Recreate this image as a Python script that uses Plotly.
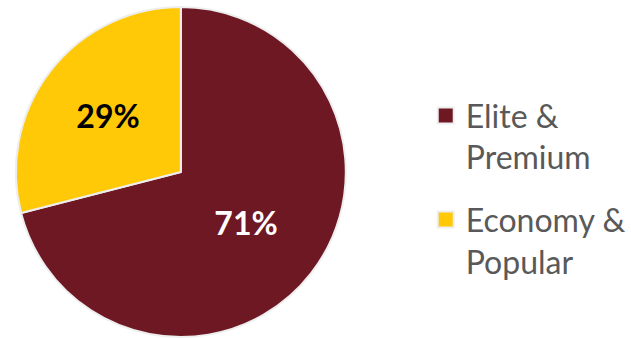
import plotly.graph_objects as go

labels = ["Elite &<br>Premium", "Economy &<br>Popular"]
values = [71, 29]
colors = ["#6E1824", "#FFC907"]
text_colors = ["white", "black"]

fig = go.Figure(go.Pie(
    labels=labels,
    values=values,
    sort=False,
    direction="clockwise",
    rotation=0,
    marker=dict(colors=colors, line=dict(color="#EEEEEE", width=2)),
    texttemplate="%{percent:.0%}",
    textposition="inside",
    insidetextorientation="horizontal",
    insidetextfont=dict(family="Lato", size=32, color=text_colors, weight="bold"),
    hoverinfo="skip",
    showlegend=False,
    domain=dict(x=[(182 - 166) / 631, (182 + 166) / 631], y=[0, 1]),
))

# legend entries as square markers
for i, (lab, col) in enumerate(zip(labels, colors)):
    fig.add_trace(go.Scatter(
        x=[None], y=[None], mode="markers", name=lab,
        legendgroup=f"g{i}",
        marker=dict(symbol="square", size=16, color=col,
                    line=dict(color="#EEEEEE", width=2)),
        hoverinfo="skip",
    ))

fig.update_xaxes(visible=False)
fig.update_yaxes(visible=False)

fig.update_layout(
    width=631,
    height=338,
    margin=dict(l=0, r=0, t=6, b=0),
    paper_bgcolor="white",
    plot_bgcolor="rgba(0,0,0,0)",
    showlegend=True,
    legend=dict(
        x=0.679, y=0.45, xanchor="left", yanchor="middle",
        font=dict(family="Lato", size=32, color="#595959"),
        itemwidth=30,
        tracegroupgap=18,
        traceorder="grouped",
        valign="top",
    ),
)

fig.write_html("out.html")
